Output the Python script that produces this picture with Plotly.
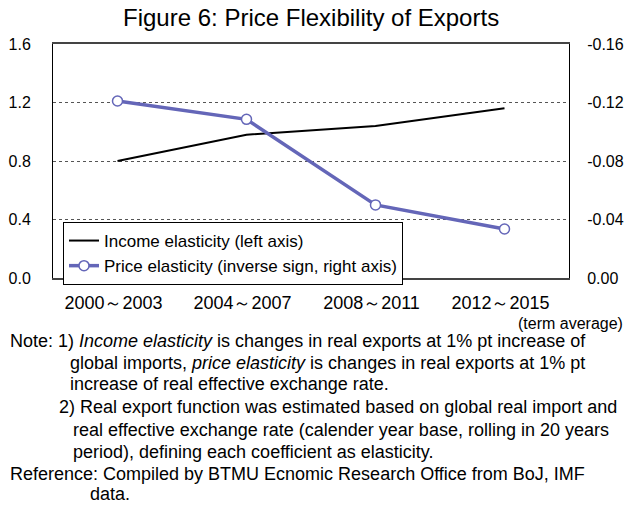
import plotly.graph_objects as go

# ---- data ----
categories = ["2000～2003", "2004～2007", "2008～2011", "2012～2015"]
income_elasticity = [0.80, 0.98, 1.04, 1.16]
price_elasticity = [-0.121, -0.1085, -0.050, -0.0335]

left_tickvals = [0.0, 0.4, 0.8, 1.2, 1.6]
left_ticktext = ["0.0", "0.4", "0.8", "1.2", "1.6"]
right_tickvals = [0.0, -0.04, -0.08, -0.12, -0.16]
right_ticktext = ["0.00", "-0.04", "-0.08", "-0.12", "-0.16"]

title_text = "Figure 6: Price Flexibility of Exports"
note_lines = [
    "Note: 1) <i>Income elasticity</i> is changes in real exports at 1% pt increase of",
    "global imports, <i>price elasticity</i> is changes in real exports at 1% pt",
    "increase of real effective exchange rate.",
    "2) Real export function was estimated based on global real import and",
    "real effective exchange rate (calender year base, rolling in 20 years",
    "period), defining each coefficient as elasticity.",
    "Reference: Compiled by BTMU Ecnomic Research Office from BoJ, IMF",
    "data.",
]

# ---- layout helpers (pixel -> paper) ----
W, H = 629, 506
L, R, T, B = 53, 569, 44, 278
def px(x):
    return (x - L) / (R - L)
def py(y):
    return (B - y) / (B - T)

FONT = "Liberation Sans, Arial, sans-serif"
BLUE = "#6466B8"

fig = go.Figure()
fig.add_trace(go.Scatter(
    x=categories, y=income_elasticity, name="Income elasticity (left axis)",
    mode="lines", line=dict(color="black", width=2), yaxis="y"))
fig.add_trace(go.Scatter(
    x=categories, y=price_elasticity,
    name="Price elasticity (inverse sign, right axis)",
    mode="lines+markers", line=dict(color=BLUE, width=3.5),
    marker=dict(symbol="circle", size=10, color="white",
                line=dict(color=BLUE, width=1.5)),
    yaxis="y2"))

note_x = [8, 68, 68, 57, 71, 71, 8, 88]
note_y = [341, 363, 384, 407, 430, 452, 474, 494]
annotations = [
    dict(text=title_text, x=0.5, xref="paper", y=py(18), yref="paper",
         xanchor="center", yanchor="middle", showarrow=False,
         font=dict(size=24, color="black", family=FONT)),
    dict(text="(term average)", x=px(625), xref="paper", y=py(323), yref="paper",
         xanchor="right", yanchor="middle", showarrow=False,
         font=dict(size=16, color="black", family=FONT)),
]
for t, xx, yy in zip(note_lines, note_x, note_y):
    annotations.append(dict(text=t, x=px(xx), xref="paper", y=py(yy), yref="paper",
                            xanchor="left", yanchor="middle", showarrow=False,
                            font=dict(size=18, color="black", family=FONT)))

fig.update_layout(
    template="none",
    width=W, height=H,
    margin=dict(l=L, r=W - R, t=T, b=H - B, pad=0, autoexpand=False),
    paper_bgcolor="white", plot_bgcolor="white",
    font=dict(family=FONT, size=16, color="black"),
    showlegend=True,
    legend=dict(x=px(63), y=py(222), xanchor="left", yanchor="top",
                bgcolor="white", bordercolor="black", borderwidth=1,
                font=dict(size=17, color="black", family=FONT),
                itemwidth=30, tracegroupgap=0),
    xaxis=dict(type="category", range=[-0.5, 3.5], showgrid=False,
               showline=True, mirror=True, linecolor="#444", linewidth=1.5,
               ticks="", ticklabelstandoff=8, ticklabelshift=-4,
               automargin=False, tickfont=dict(size=18)),
    yaxis=dict(range=[0, 1.6], tickvals=left_tickvals, ticktext=left_ticktext,
               showgrid=True, gridcolor="#555", griddash="dot", gridwidth=1,
               showline=True, linecolor="black", linewidth=1,
               ticks="", ticklabelstandoff=18, zeroline=False,
               automargin=False, tickfont=dict(size=16)),
    yaxis2=dict(range=[0, -0.16], tickvals=right_tickvals, ticktext=right_ticktext,
                overlaying="y", side="right", showgrid=False,
                showline=True, linecolor="black", linewidth=1,
                ticks="", ticklabelstandoff=14, zeroline=False,
                automargin=False, tickfont=dict(size=16)),
    annotations=annotations,
)

fig.write_html("out.html")
